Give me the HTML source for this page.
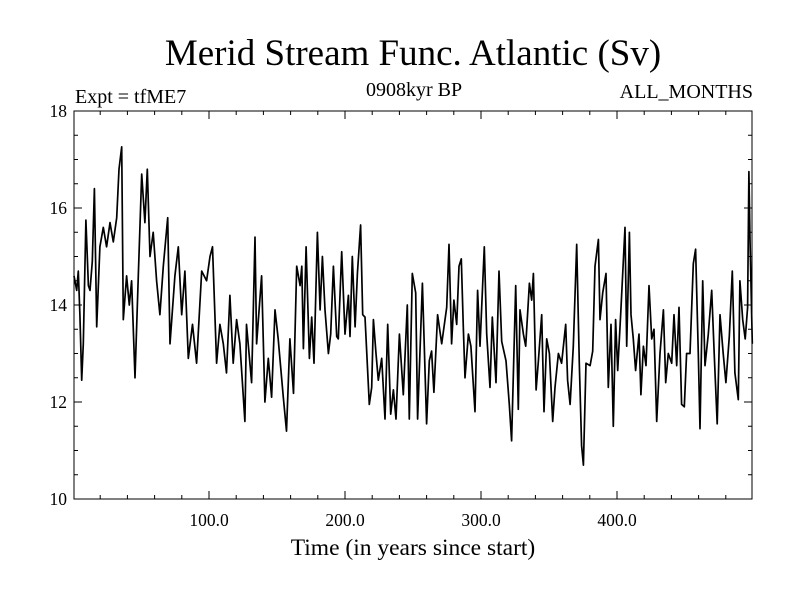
<!DOCTYPE html>
<html><head><meta charset="utf-8"><style>
body{margin:0;background:#fff;}
svg text{font-family:"Liberation Serif",serif;fill:#000;}
</style></head><body>
<svg id="chart" width="800" height="600">
<rect width="800" height="600" fill="#fff"/>
<text x="413" y="65" font-size="37" text-anchor="middle">Merid Stream Func. Atlantic (Sv)</text>
<text x="75" y="103" font-size="20">Expt = tfME7</text>
<text x="414" y="96" font-size="20" text-anchor="middle">0908kyr BP</text>
<text x="753" y="98" font-size="20" text-anchor="end">ALL_MONTHS</text>
<text x="413" y="555" font-size="23.5" text-anchor="middle">Time (in years since start)</text>
<g id="axes"></g>
<path id="series" fill="none" stroke="#000" stroke-width="1.7" stroke-linejoin="round"/>
<rect x="74" y="111" width="678" height="388" fill="none" stroke="#000" stroke-width="1"/>
</svg>
<script>
const years = [0.7,2.7,3.9,5.1,6.4,7.6,9.5,11.3,12.5,14.2,15.7,17.4,19.8,22.3,24.7,27.2,29.6,32.1,33.8,35.8,37.0,39.4,41.4,43.1,45.6,48.0,50.5,52.9,54.6,56.6,59.0,61.5,63.9,66.4,69.6,71.3,74.9,77.4,79.9,82.3,84.8,87.9,90.9,94.6,98.2,100.7,102.6,105.6,108.0,110.5,112.9,115.4,117.8,120.3,122.7,126.4,127.6,131.3,133.8,135.0,138.7,141.1,143.6,146.0,148.5,150.9,154.6,157.0,159.5,
162.1,164.5,167.0,168.2,169.4,171.4,173.8,175.5,177.2,179.7,181.7,183.4,185.3,187.8,189.5,191.5,193.9,195.1,197.6,200.0,202.5,203.7,205.4,207.4,209.1,211.5,213.0,214.7,217.9,219.6,220.9,222.8,224.5,227.0,229.4,231.4,233.6,235.6,237.5,240.0,242.9,245.8,247.3,249.5,252.0,253.4,256.9,260.0,262.0,263.7,265.4,268.1,271.1,274.8,276.5,278.4,280.1,282.1,283.8,285.5,287.0,288.2,290.7,292.6,295.6,297.5,299.3,302.4,304.2,306.6,308.3,311.0,313.2,315.2,318.4,320.8,322.5,325.5,327.4,
328.7,331.2,332.9,335.6,337.3,338.5,340.5,342.2,344.6,346.3,348.3,350.3,352.7,354.4,356.9,359.3,362.3,363.7,365.5,367.9,370.4,372.3,374.0,375.3,377.2,380.2,382.1,383.8,386.3,387.5,389.5,391.9,393.6,395.6,397.3,399.0,400.5,402.9,405.9,407.1,409.1,410.3,412.0,413.7,416.2,417.6,419.4,421.3,423.5,425.5,427.2,429.2,431.6,434.1,435.8,437.7,440.2,441.9,443.9,445.6,447.5,449.5,451.2,453.7,456.1,457.8,459.8,461.0,463.0,464.7,467.1,469.6,471.5,473.7,475.7,478.1,480.1,482.6,484.8,486.7,489.2,490.4,492.4,494.3,496.0,497.0,497.8,499.5];
const values = [14.6,14.3,14.7,13.8,12.45,13.2,15.75,14.4,14.3,14.9,16.4,13.55,15.2,15.6,15.2,15.7,15.3,15.8,16.8,17.26,13.7,14.6,14.0,14.5,12.5,14.6,16.7,15.7,16.8,15.0,15.5,14.5,13.8,14.8,15.8,13.2,14.6,15.2,13.8,14.7,12.9,13.6,12.8,14.7,14.5,15.0,15.2,12.8,13.6,13.2,12.6,14.2,12.8,13.7,13.2,11.6,13.6,12.4,15.4,13.2,14.6,12.0,12.9,12.1,13.9,13.3,12.1,11.4,13.3,
12.18,14.8,14.4,14.8,13.1,15.2,12.9,13.75,12.8,15.5,13.9,15.0,13.9,13.0,13.4,14.8,13.35,13.3,15.1,13.4,14.2,13.35,15.0,13.55,14.65,15.65,13.8,13.75,11.95,12.3,13.7,13.0,12.45,12.9,11.65,13.6,11.75,12.25,11.65,13.4,12.15,14.0,11.65,14.65,14.25,11.65,14.45,11.55,12.85,13.05,12.2,13.8,13.2,13.95,15.25,13.2,14.1,13.6,14.8,14.95,13.55,12.5,13.4,13.15,11.8,14.3,13.15,15.2,13.4,12.3,13.75,12.4,14.7,13.25,12.85,11.95,11.2,14.4,11.85,
13.9,13.4,13.15,14.45,14.1,14.65,12.25,12.85,13.8,11.8,13.3,13.0,11.6,12.3,13.0,12.8,13.6,12.45,11.95,13.15,15.25,12.8,11.1,10.7,12.8,12.75,13.05,14.8,15.35,13.7,14.25,14.65,12.3,13.6,11.5,13.7,12.65,13.9,15.6,13.15,15.5,13.8,13.3,12.65,13.4,12.15,13.15,12.75,14.4,13.3,13.5,11.6,13.0,13.9,12.4,13.0,12.8,13.8,12.75,13.95,11.95,11.9,13.0,13.0,14.85,15.15,13.0,11.45,14.5,12.75,13.4,14.3,13.0,11.55,13.8,13.0,12.4,13.35,14.7,12.6,12.05,14.5,13.7,13.3,13.95,16.75,15.35,13.2];
const xTicks = [100,200,300,400];
const xTickLabels = ["100.0","200.0","300.0","400.0"];
const yTicks = [10,12,14,16,18];
const yTickLabels = ["10","12","14","16","18"];

const L=74,R=752,T=111,B=499;
function xs(v){return 73+1.36*v;}
function ys(v){return B-(v-10)*(B-T)/8;}
const NS="http://www.w3.org/2000/svg";
const axes=document.getElementById('axes');
function line(x1,y1,x2,y2,name){
  const l=document.createElementNS(NS,'line');
  l.setAttribute('x1',x1);l.setAttribute('y1',y1);l.setAttribute('x2',x2);l.setAttribute('y2',y2);
  l.setAttribute('stroke','#000');l.setAttribute('stroke-width','1');
  
  
  axes.appendChild(l);
}
function text(x,y,s,anchor,name){
  const t=document.createElementNS(NS,'text');
  t.setAttribute('x',x);t.setAttribute('y',y);t.setAttribute('font-size','17.5');t.setAttribute('text-anchor',anchor);
  t.textContent=s;
  
  
  axes.appendChild(t);
}
for(let v=20;v<=480;v+=20){
  const major=v%100===0, len=major?8:4, x=xs(v);
  line(x,B,x,B-len,'x-tick');
  line(x,T,x,T+len,'x-tick-top');
}
for(let v=10.5;v<18;v+=0.5){
  const major=v%2===0, len=major?8:4, y=ys(v);
  line(L,y,L+len,y,'y-tick');
  line(R,y,R-len,y,'y-tick-right');
}
xTicks.forEach((v,i)=>text(xs(v),526,xTickLabels[i],'middle','x-tick-label'));
yTicks.forEach((v,i)=>text(67,ys(v)+6,yTickLabels[i],'end','y-tick-label'));
let d='';
years.forEach((yr,i)=>{d+=(i?'L':'M')+xs(yr).toFixed(1)+','+ys(values[i]).toFixed(1);});
document.getElementById('series').setAttribute('d',d);
</script>
</body></html>
